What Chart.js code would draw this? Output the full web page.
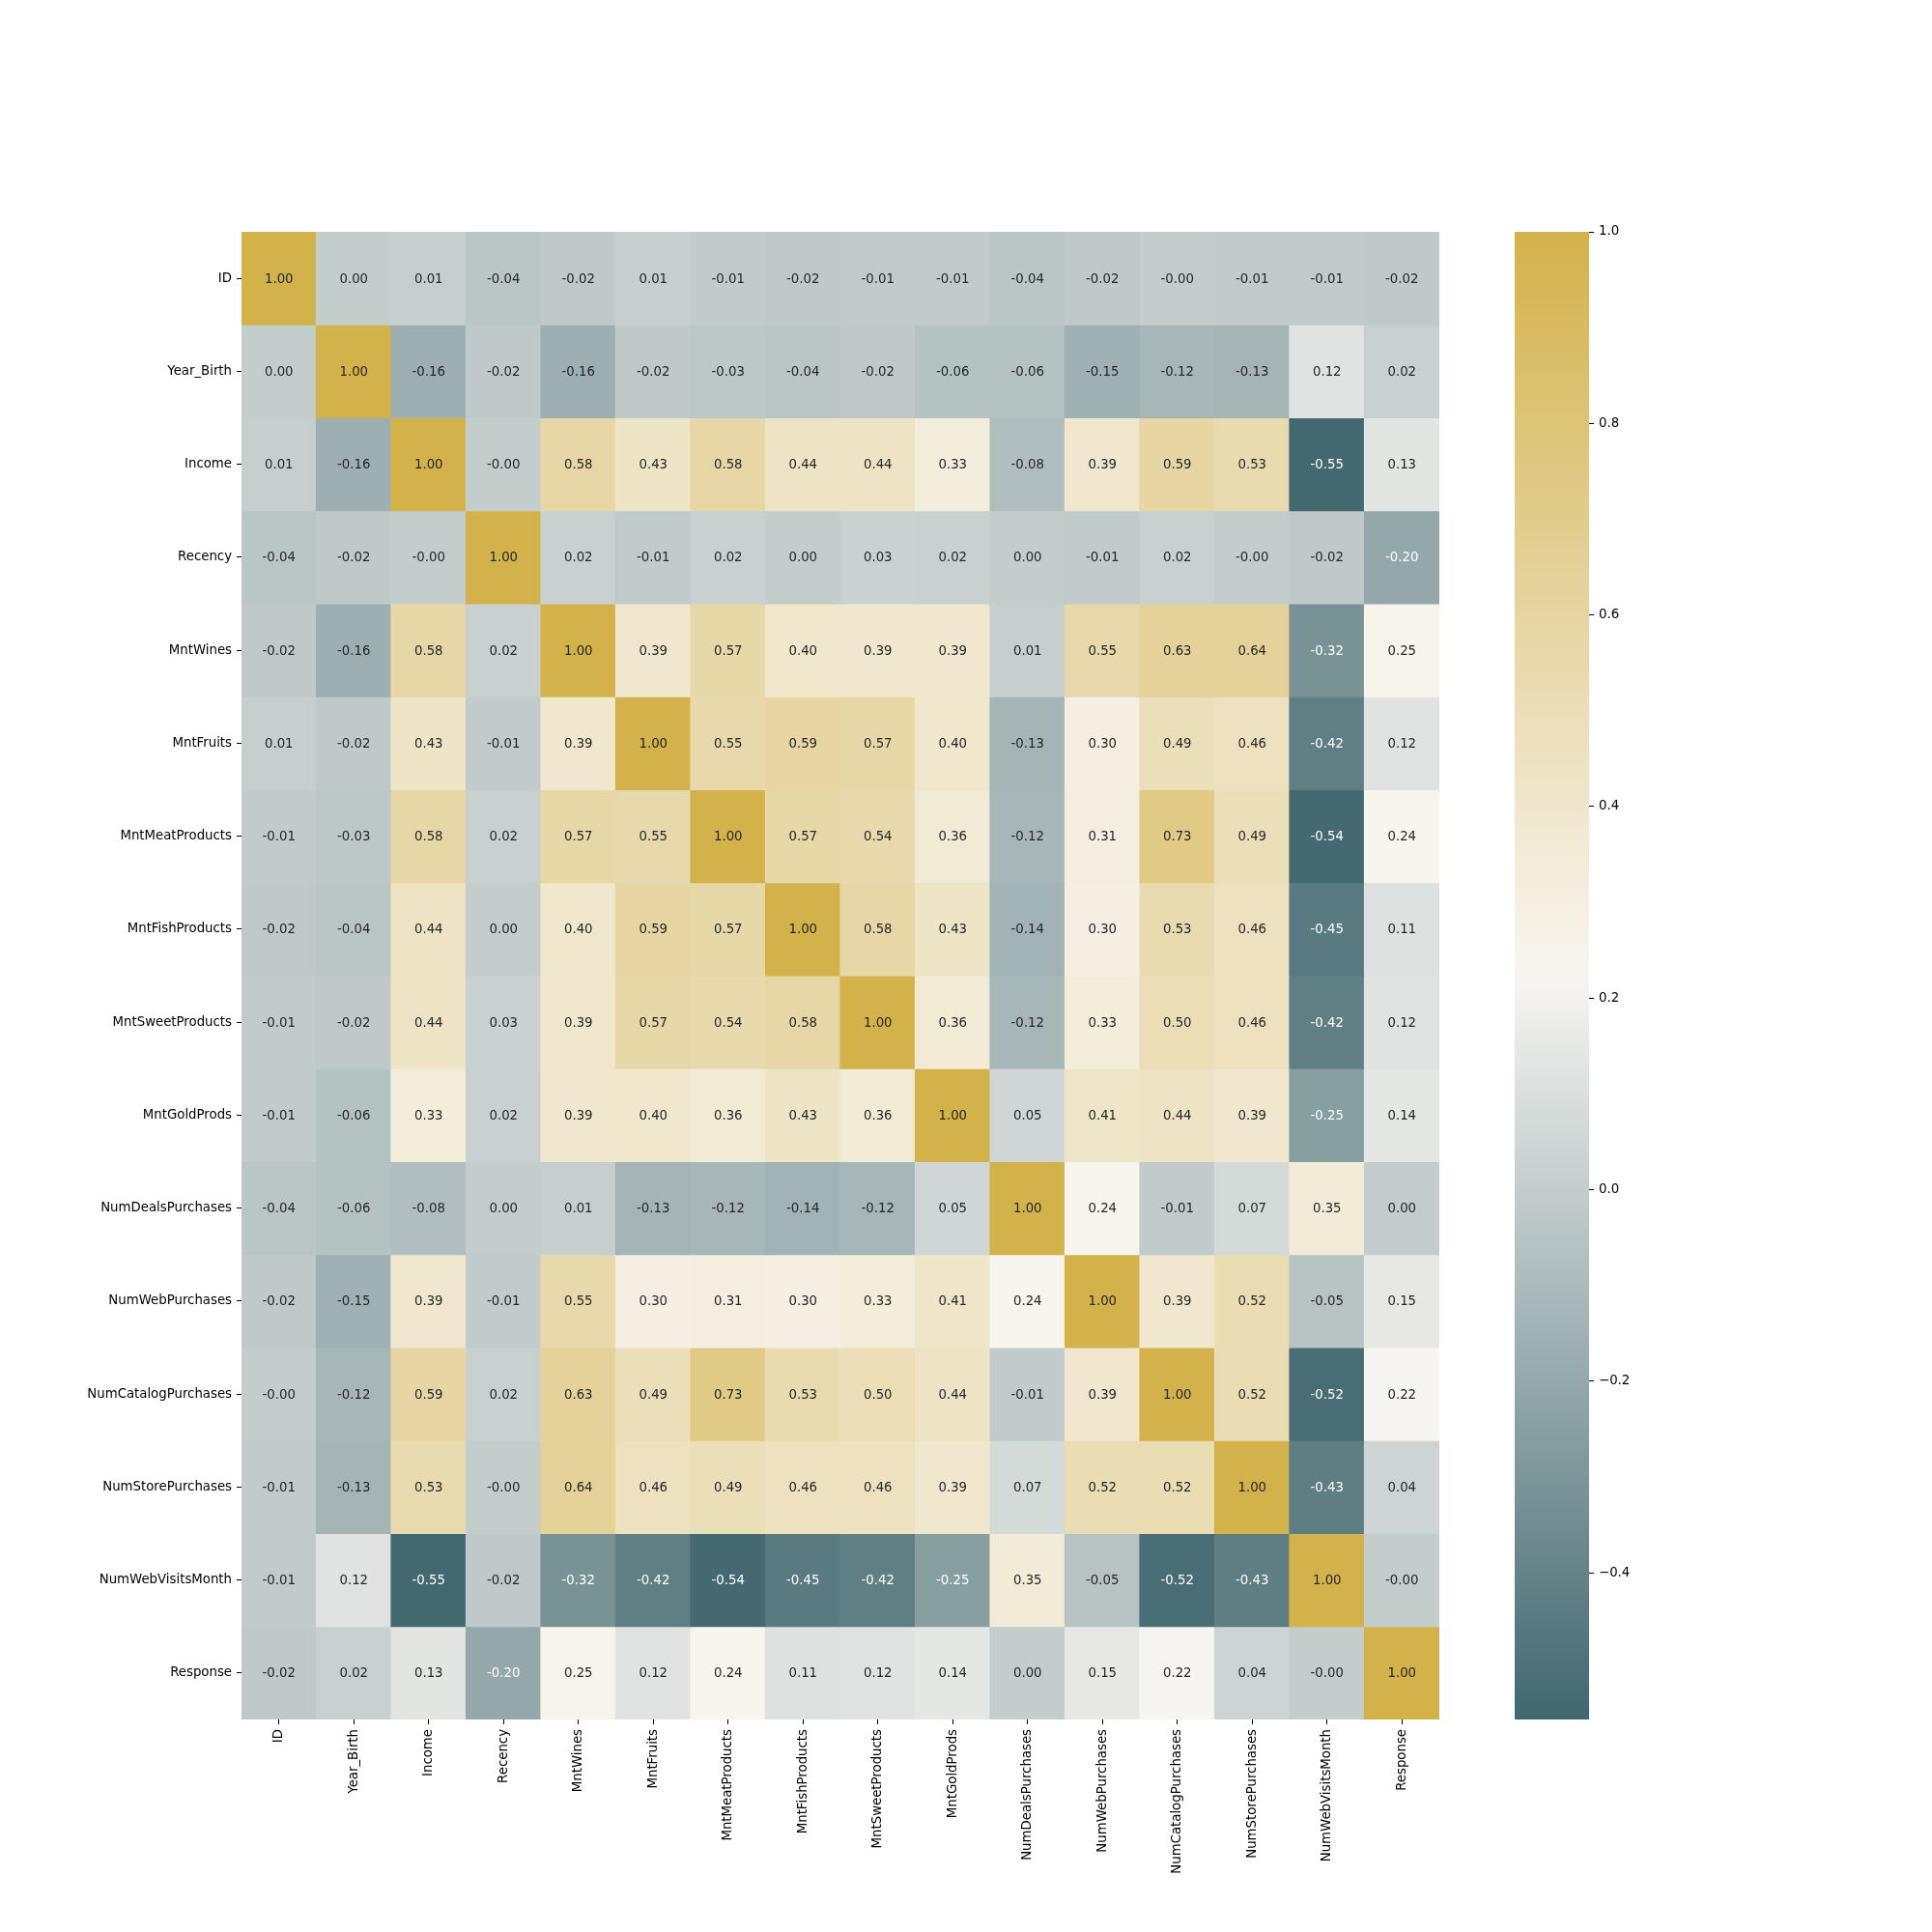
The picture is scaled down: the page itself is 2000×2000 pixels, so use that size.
<!DOCTYPE html>
<html lang="en-US">
<head>
  <meta charset="utf-8">
  <title>Correlation heatmap | Chart.js</title>
  <script src="https://cdn.jsdelivr.net/npm/chart.js@4/dist/chart.umd.min.js"></script>
  <style>
    html, body { margin: 0; padding: 0; background: #fff; }
    .page { position: relative; width: 2000px; height: 2000px; }
    #heat { position: absolute; left: 0; top: 0; }
    #cbar { position: absolute; left: 1500px; top: 0; }
  </style>
</head>
<body>
  <div class="page">
    <canvas id="heat" width="1500" height="2000"></canvas>
    <canvas id="cbar" width="300" height="2000"></canvas>
  </div>

  <script>
    const features = [
      'ID', 'Year_Birth', 'Income', 'Recency', 'MntWines', 'MntFruits',
      'MntMeatProducts', 'MntFishProducts', 'MntSweetProducts', 'MntGoldProds',
      'NumDealsPurchases', 'NumWebPurchases', 'NumCatalogPurchases',
      'NumStorePurchases', 'NumWebVisitsMonth', 'Response'
    ];

    // correlation rows, same order as features
    const corrID       = [1.00, 0.00, 0.01, -0.04, -0.02, 0.01, -0.01, -0.02, -0.01, -0.01, -0.04, -0.02, -0.00, -0.01, -0.01, -0.02];
    const corrYear     = [0.00, 1.00, -0.16, -0.02, -0.16, -0.02, -0.03, -0.04, -0.02, -0.06, -0.06, -0.15, -0.12, -0.13, 0.12, 0.02];
    const corrIncome   = [0.01, -0.16, 1.00, -0.00, 0.58, 0.43, 0.58, 0.44, 0.44, 0.33, -0.08, 0.39, 0.59, 0.53, -0.55, 0.13];
    const corrRecency  = [-0.04, -0.02, -0.00, 1.00, 0.02, -0.01, 0.02, 0.00, 0.03, 0.02, 0.00, -0.01, 0.02, -0.00, -0.02, -0.20];
    const corrWines    = [-0.02, -0.16, 0.58, 0.02, 1.00, 0.39, 0.57, 0.40, 0.39, 0.39, 0.01, 0.55, 0.63, 0.64, -0.32, 0.25];
    const corrFruits   = [0.01, -0.02, 0.43, -0.01, 0.39, 1.00, 0.55, 0.59, 0.57, 0.40, -0.13, 0.30, 0.49, 0.46, -0.42, 0.12];
    const corrMeat     = [-0.01, -0.03, 0.58, 0.02, 0.57, 0.55, 1.00, 0.57, 0.54, 0.36, -0.12, 0.31, 0.73, 0.49, -0.54, 0.24];
    const corrFish     = [-0.02, -0.04, 0.44, 0.00, 0.40, 0.59, 0.57, 1.00, 0.58, 0.43, -0.14, 0.30, 0.53, 0.46, -0.45, 0.11];
    const corrSweet    = [-0.01, -0.02, 0.44, 0.03, 0.39, 0.57, 0.54, 0.58, 1.00, 0.36, -0.12, 0.33, 0.50, 0.46, -0.42, 0.12];
    const corrGold     = [-0.01, -0.06, 0.33, 0.02, 0.39, 0.40, 0.36, 0.43, 0.36, 1.00, 0.05, 0.41, 0.44, 0.39, -0.25, 0.14];
    const corrDeals    = [-0.04, -0.06, -0.08, 0.00, 0.01, -0.13, -0.12, -0.14, -0.12, 0.05, 1.00, 0.24, -0.01, 0.07, 0.35, 0.00];
    const corrWeb      = [-0.02, -0.15, 0.39, -0.01, 0.55, 0.30, 0.31, 0.30, 0.33, 0.41, 0.24, 1.00, 0.39, 0.52, -0.05, 0.15];
    const corrCatalog  = [-0.00, -0.12, 0.59, 0.02, 0.63, 0.49, 0.73, 0.53, 0.50, 0.44, -0.01, 0.39, 1.00, 0.52, -0.52, 0.22];
    const corrStore    = [-0.01, -0.13, 0.53, -0.00, 0.64, 0.46, 0.49, 0.46, 0.46, 0.39, 0.07, 0.52, 0.52, 1.00, -0.43, 0.04];
    const corrVisits   = [-0.01, 0.12, -0.55, -0.02, -0.32, -0.42, -0.54, -0.45, -0.42, -0.25, 0.35, -0.05, -0.52, -0.43, 1.00, -0.00];
    const corrResponse = [-0.02, 0.02, 0.13, -0.20, 0.25, 0.12, 0.24, 0.11, 0.12, 0.14, 0.00, 0.15, 0.22, 0.04, -0.00, 1.00];

    const matrix = [corrID, corrYear, corrIncome, corrRecency, corrWines, corrFruits, corrMeat, corrFish,
                    corrSweet, corrGold, corrDeals, corrWeb, corrCatalog, corrStore, corrVisits, corrResponse];

    const colorbarTicks = [-0.4, -0.2, 0.0, 0.2, 0.4, 0.6, 0.8, 1.0];

    const vmin = -0.553;
    const vmax = 1.0;

    const FONT = 'DejaVu Sans';
    const FSIZE = 13.3;

    // diverging map: dark slate -> light -> gold
    const cDark = [65, 103, 111];
    const cLight = [248, 246, 242];
    const cGold = [211, 178, 76];

    function mix(a, b, t) {
      return a.map((v, i) => Math.round(v + (b[i] - v) * t));
    }

    function cmap(v) {
      let t = (v - vmin) / (vmax - vmin);
      t = Math.max(0, Math.min(1, t));
      return t < 0.5 ? mix(cDark, cLight, t / 0.5) : mix(cLight, cGold, (t - 0.5) / 0.5);
    }

    function rgb(c) {
      return 'rgb(' + c.join(',') + ')';
    }

    // seaborn picks the annotation colour from relative luminance
    function textColor(c) {
      const lin = c.map(function(x) {
        x = x / 255;
        return x <= 0.03928 ? x / 12.92 : Math.pow((x + 0.055) / 1.055, 2.4);
      });
      const lum = 0.2126 * lin[0] + 0.7152 * lin[1] + 0.0722 * lin[2];
      return lum > 0.408 ? '#262626' : '#ffffff';
    }

    function fmt(v) {
      const neg = v < 0 || Object.is(v, -0);
      return (neg ? '-' : '') + Math.abs(v).toFixed(2);
    }

    const datasets = matrix.map(function(row, r) {
      return {
        label: features[r],
        data: row.map(() => [r, r + 1]),
        backgroundColor: row.map(v => rgb(cmap(v))),
        borderWidth: 0,
        grouped: false,
        barPercentage: 1,
        categoryPercentage: 1,
        inflateAmount: 0.6
      };
    });

    const annotate = {
      id: 'annotate',
      afterDatasetsDraw(chart) {
        const ctx = chart.ctx;
        const xs = chart.scales.x;
        const ys = chart.scales.y;
        ctx.save();
        ctx.font = FSIZE + 'px "' + FONT + '"';
        ctx.textAlign = 'center';
        ctx.textBaseline = 'middle';
        matrix.forEach(function(row, r) {
          row.forEach(function(v, c) {
            ctx.fillStyle = textColor(cmap(v));
            ctx.fillText(fmt(v), xs.getPixelForValue(c), ys.getPixelForValue(r + 0.5) + 1);
          });
        });
        ctx.restore();
      }
    };

    const tickFont = { family: FONT, size: FSIZE };

    new Chart(document.getElementById('heat'), {
      type: 'bar',
      data: { labels: features, datasets: datasets },
      options: {
        responsive: false,
        animation: false,
        layout: { padding: { top: 240, left: 0, right: 10, bottom: 0 } },
        plugins: { legend: { display: false }, tooltip: { enabled: false } },
        scales: {
          x: {
            type: 'category',
            offset: true,
            grid: { display: true, drawOnChartArea: false, offset: false, tickLength: 5, color: '#000', lineWidth: 1 },
            border: { display: false },
            ticks: { autoSkip: false, minRotation: 90, maxRotation: 90, padding: 5, color: '#000', font: tickFont },
            afterFit(scale) { scale.height = 220; }
          },
          y: {
            type: 'linear',
            min: 0,
            max: features.length,
            reverse: true,
            grid: { display: true, drawOnChartArea: false, tickLength: 5, color: '#000', lineWidth: 1 },
            border: { display: false },
            afterBuildTicks(scale) {
              scale.ticks = features.map((_, i) => ({ value: i + 0.5 }));
            },
            ticks: {
              padding: 5,
              color: '#000',
              font: tickFont,
              callback: v => features[Math.floor(v)]
            },
            afterFit(scale) { scale.width = 250; }
          }
        }
      },
      plugins: [annotate]
    });

    // colour bar
    new Chart(document.getElementById('cbar'), {
      type: 'bar',
      data: {
        labels: ['corr'],
        datasets: [{
          data: [[vmin, vmax]],
          borderWidth: 0,
          barPercentage: 1,
          categoryPercentage: 1,
          backgroundColor(context) {
            const chart = context.chart;
            if (!chart.chartArea) return null;
            const y = chart.scales.y;
            const g = chart.ctx.createLinearGradient(0, y.getPixelForValue(vmin), 0, y.getPixelForValue(vmax));
            g.addColorStop(0, rgb(cDark));
            g.addColorStop(0.5, rgb(cLight));
            g.addColorStop(1, rgb(cGold));
            return g;
          }
        }]
      },
      options: {
        responsive: false,
        animation: false,
        layout: { padding: { top: 240, bottom: 220, left: 68, right: 55 } },
        plugins: { legend: { display: false }, tooltip: { enabled: false } },
        scales: {
          x: { display: false },
          y: {
            type: 'linear',
            position: 'right',
            min: vmin,
            max: vmax,
            grid: { display: true, drawOnChartArea: false, tickLength: 5, color: '#000', lineWidth: 1 },
            border: { display: false },
            afterBuildTicks(scale) {
              scale.ticks = colorbarTicks.map(v => ({ value: v }));
            },
            ticks: {
              padding: 5,
              color: '#000',
              font: tickFont,
              callback: v => (v < -1e-9 ? '\u2212' : '') + Math.abs(v).toFixed(1)
            },
            afterFit(scale) { scale.width = 100; }
          }
        }
      }
    });
  </script>
</body>
</html>
